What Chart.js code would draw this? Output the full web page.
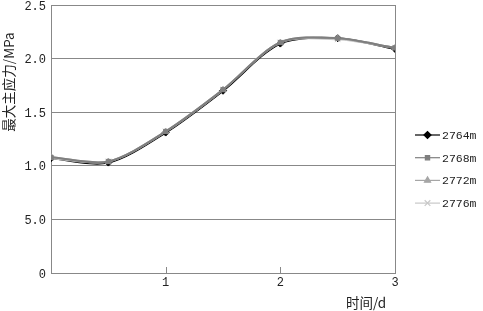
<!DOCTYPE html>
<html>
<head>
<meta charset="utf-8">
<script src="https://cdn.jsdelivr.net/npm/chart.js@4/dist/chart.umd.min.js"></script>
<style>
  body { margin: 0; background: #fff; }
</style>
</head>
<body>
<canvas id="grafico" width="483" height="311"></canvas>
<script>
// dados
const dias = [0, 0.5, 1, 1.5, 2, 2.5, 3];
const serie2764 = [1.07, 1.03, 1.31, 1.70, 2.14, 2.19, 2.09];
const serie2768 = [1.08, 1.04, 1.32, 1.71, 2.15, 2.19, 2.10];
const serie2772 = [1.08, 1.04, 1.32, 1.71, 2.15, 2.19, 2.10];
const serie2776 = [1.07, 1.04, 1.32, 1.71, 2.15, 2.18, 2.10];
const nomes = ['2764m', '2768m', '2772m', '2776m'];
const yTickLabels = ['0', '5.0', '1.0', '1.5', '2.0', '2.5'];
const xTickLabels = ['', '1', '2', '3'];
const tituloY = '最大主应力/MPa';
const tituloX = '时间/d';

const fonteNum = '"Liberation Mono", "Noto Sans CJK SC", monospace';
const fonteCJK = '"Noto Sans CJK SC", "Liberation Serif", serif';

function pontos(valores) {
    return valores.map((v, i) => ({ x: dias[i], y: v }));
}

const estilos = [
    { cor: '#000000', ponto: 'rectRot', raio: 3.5, ordem: 4 },
    { cor: '#7f7f7f', ponto: 'rect', raio: 3, ordem: 1 },
    { cor: '#a6a6a6', ponto: 'triangle', raio: 3.5, ordem: 2 },
    { cor: '#c8c8c8', ponto: 'crossRot', raio: 4, ordem: 3 }
];
const series = [serie2764, serie2768, serie2772, serie2776];

const datasets = series.map((s, i) => ({
    label: nomes[i],
    data: pontos(s),
    borderColor: estilos[i].cor,
    backgroundColor: estilos[i].cor,
    borderWidth: 2,
    pointStyle: estilos[i].ponto,
    pointRadius: estilos[i].raio,
    pointBorderWidth: 1,
    pointBackgroundColor: estilos[i].cor,
    pointBorderColor: estilos[i].cor,
    tension: 0.3,
    order: estilos[i].ordem
}));

// títulos, tracinhos internos do eixo x e legenda
const extras = {
    id: 'extras',
    afterDraw(chart) {
        const ctx = chart.ctx;
        const area = chart.chartArea;
        const x = chart.scales.x;
        ctx.save();

        // tracinhos para dentro
        ctx.strokeStyle = '#888';
        ctx.lineWidth = 1;
        x.ticks.forEach(t => {
            if (t.value <= 0 || t.value >= 3) return;
            const px = Math.round(x.getPixelForValue(t.value)) + 0.5;
            ctx.beginPath();
            ctx.moveTo(px, area.bottom);
            ctx.lineTo(px, area.bottom - 6);
            ctx.stroke();
        });

        // título y
        ctx.fillStyle = '#222';
        ctx.font = '13.5px ' + fonteCJK;
        ctx.textAlign = 'center';
        ctx.textBaseline = 'middle';
        ctx.save();
        ctx.translate(9, 82);
        ctx.rotate(-Math.PI / 2);
        ctx.fillText(tituloY, 0, 0);
        ctx.restore();

        // título x
        ctx.fillText(tituloX, 366, 303);

        // legenda
        const lx = area.right + 20;
        let ly = 135;
        chart.data.datasets.forEach(ds => {
            ctx.strokeStyle = ds.borderColor;
            ctx.fillStyle = ds.borderColor;
            ctx.lineWidth = 1.2;
            ctx.beginPath();
            ctx.moveTo(lx, ly);
            ctx.lineTo(lx + 25, ly);
            ctx.stroke();
            Chart.helpers.drawPoint(ctx, {
                pointStyle: ds.pointStyle,
                radius: ds.pointRadius,
                rotation: 0,
                borderWidth: 1
            }, lx + 12.5, ly);
            ctx.fillStyle = '#222';
            ctx.font = '11.5px ' + fonteNum;
            ctx.textAlign = 'left';
            ctx.fillText(ds.label, lx + 27, ly + 1);
            ly += 22.7;
        });
        ctx.restore();
    }
};

window.onload = () => {
    const ctx = document.getElementById('grafico').getContext('2d');

    new Chart(ctx, {
        type: 'line',
        data: { datasets },
        options: {
            responsive: false,
            animation: false,
            layout: { padding: { left: 0, top: 4, right: 88, bottom: 0 } },
            plugins: {
                legend: { display: false },
                tooltip: { enabled: false }
            },
            scales: {
                x: {
                    type: 'linear',
                    min: 0,
                    max: 3,
                    ticks: {
                        stepSize: 1,
                        padding: 3,
                        color: '#222',
                        font: { family: fonteNum, size: 12 },
                        callback: (v, i) => xTickLabels[i]
                    },
                    grid: {
                        drawTicks: false,
                        lineWidth: 1,
                        color: c => (c.tick && c.tick.value === 3) ? '#888' : 'rgba(0,0,0,0)'
                    },
                    border: { display: true, color: '#888' },
                    afterFit: s => { s.height = 38; s.paddingLeft = 0; s.paddingRight = 0; }
                },
                y: {
                    min: 0,
                    max: 2.5,
                    ticks: {
                        stepSize: 0.5,
                        padding: 5,
                        labelOffset: 1.5,
                        color: '#222',
                        font: { family: fonteNum, size: 12 },
                        callback: (v, i) => yTickLabels[i]
                    },
                    grid: { drawTicks: false, color: '#888', lineWidth: 1 },
                    border: { display: true, color: '#888' },
                    afterFit: s => { s.width = 51; s.paddingTop = 0; s.paddingBottom = 0; }
                }
            }
        },
        plugins: [extras]
    });
};
</script>
</body>
</html>
